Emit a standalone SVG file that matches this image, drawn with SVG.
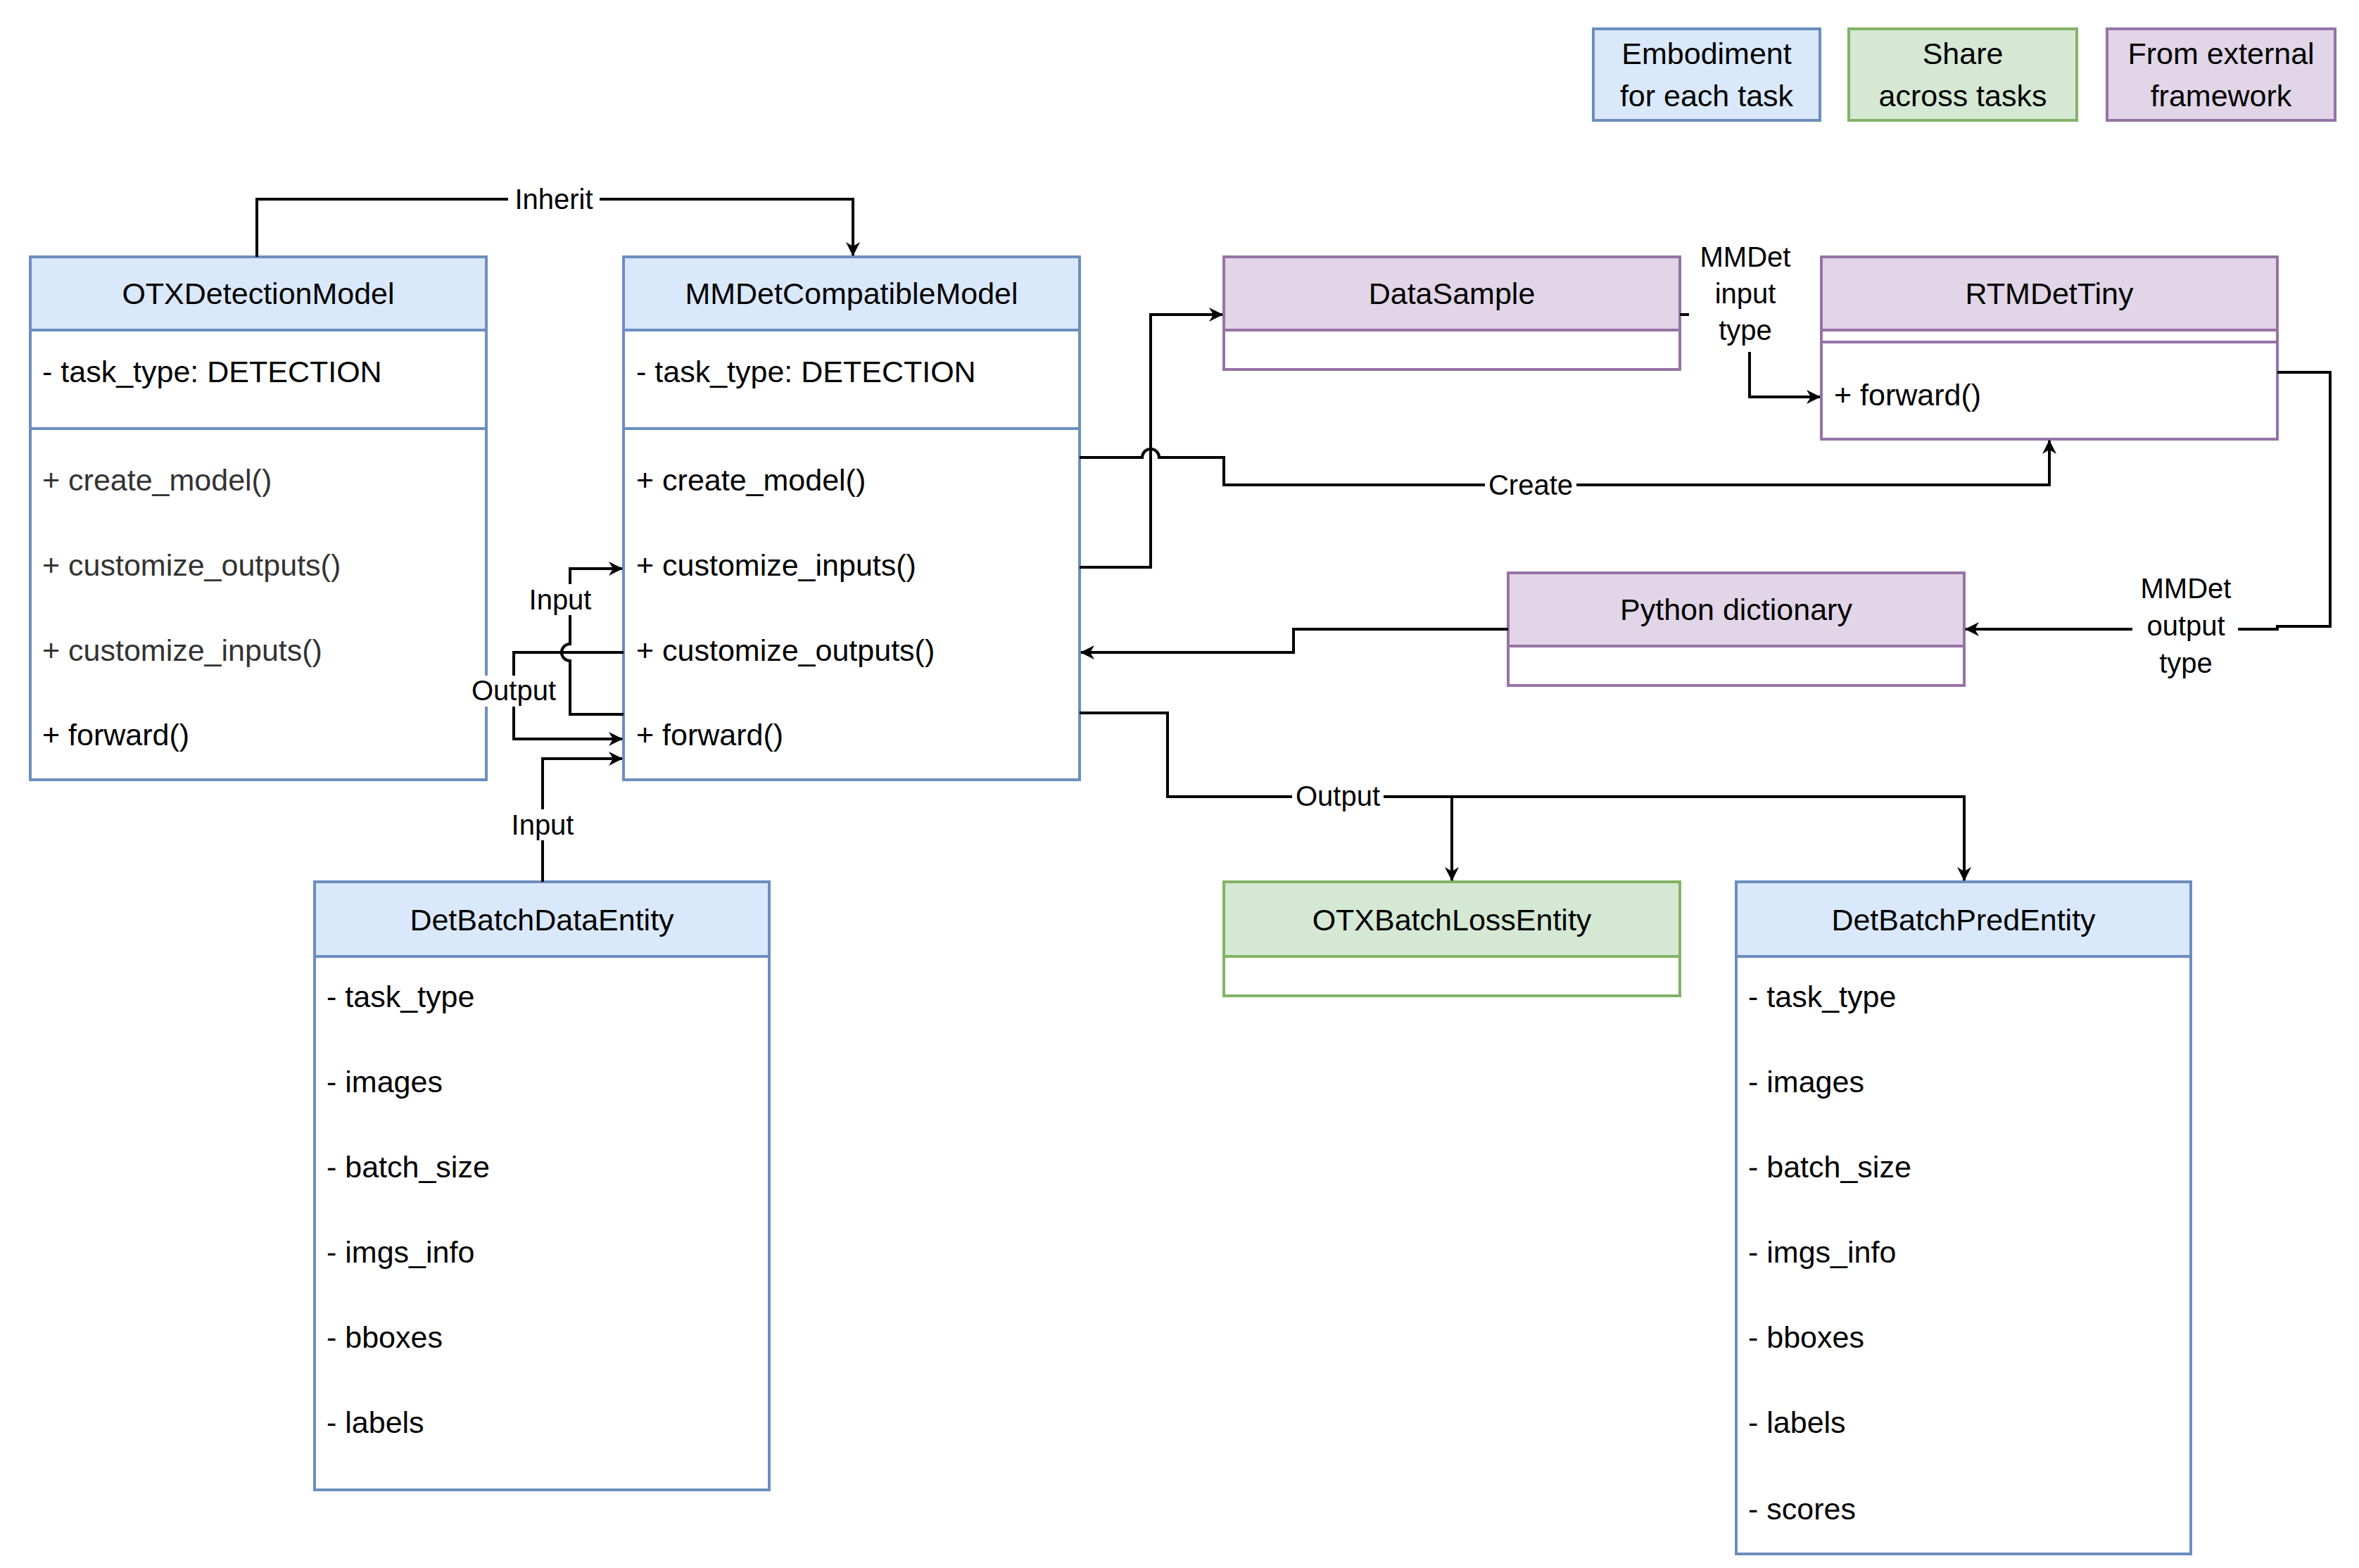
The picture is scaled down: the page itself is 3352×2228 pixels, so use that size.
<svg xmlns="http://www.w3.org/2000/svg" width="3352" height="2228" viewBox="0 0 3352 2228">
<style>
text{font-family:"Liberation Sans",Arial,sans-serif;font-size:43px;fill:#000}
.c{text-anchor:middle}
.b{fill:#dae8fc;stroke:#6c8ebf;stroke-width:4}
.g{fill:#d5e8d4;stroke:#82b366;stroke-width:4}
.p{fill:#e1d5e7;stroke:#9673a6;stroke-width:4}
.w{fill:#fff}
.bs{fill:#fff;stroke:#6c8ebf;stroke-width:4}
.gs{fill:#fff;stroke:#82b366;stroke-width:4}
.ps{fill:#fff;stroke:#9673a6;stroke-width:4}
.ln{fill:none;stroke:#000;stroke-width:4}
.lb{font-size:40px}
.gr{fill:#333}
</style>
<defs>
<marker id="a" viewBox="0 0 20 20" refX="19" refY="10" markerWidth="20" markerHeight="20" markerUnits="userSpaceOnUse" orient="auto">
<path d="M0,0 L20,10 L0,20 L6,10 Z" fill="#000"/>
</marker>
</defs>
<g id="legend">
<rect class="b" x="2264" y="41" width="322" height="130"/>
<text class="c" x="2425" y="91">Embodiment</text><text class="c" x="2425" y="151">for each task</text>
<rect class="g" x="2627" y="41" width="324" height="130"/>
<text class="c" x="2789" y="91">Share</text><text class="c" x="2789" y="151">across tasks</text>
<rect class="p" x="2994" y="41" width="324" height="130"/>
<text class="c" x="3156" y="91">From external</text><text class="c" x="3156" y="151">framework</text>
</g>
<g id="OTXDetectionModel">
<rect class="bs" x="43" y="365" width="648" height="743"/>
<rect class="b" x="43" y="365" width="648" height="104"/>
<line class="ln" x1="43" y1="609" x2="691" y2="609" stroke="#6c8ebf" style="stroke:#6c8ebf"/>
<text class="c" x="367" y="432">OTXDetectionModel</text>
<text x="60" y="543">- task_type: DETECTION</text>
<text class="gr" x="60" y="697">+ create_model()</text>
<text class="gr" x="60" y="818">+ customize_outputs()</text>
<text class="gr" x="60" y="939">+ customize_inputs()</text>
<text x="60" y="1059">+ forward()</text>
</g>
<g id="MMDetCompatibleModel">
<rect class="bs" x="886" y="365" width="648" height="743"/>
<rect class="b" x="886" y="365" width="648" height="104"/>
<line x1="886" y1="609" x2="1534" y2="609" style="stroke:#6c8ebf;stroke-width:4"/>
<text class="c" x="1210" y="432">MMDetCompatibleModel</text>
<text x="904" y="543">- task_type: DETECTION</text>
<text x="904" y="697">+ create_model()</text>
<text x="904" y="818">+ customize_inputs()</text>
<text x="904" y="939">+ customize_outputs()</text>
<text x="904" y="1059">+ forward()</text>
</g>
<g id="DataSample">
<rect class="ps" x="1739" y="365" width="648" height="160"/>
<rect class="p" x="1739" y="365" width="648" height="104"/>
<text class="c" x="2063" y="432">DataSample</text>
</g>
<g id="RTMDetTiny">
<rect class="ps" x="2588" y="365" width="648" height="259"/>
<rect class="p" x="2588" y="365" width="648" height="104"/>
<line x1="2588" y1="486" x2="3236" y2="486" style="stroke:#9673a6;stroke-width:4"/>
<text class="c" x="2912" y="432">RTMDetTiny</text>
<text x="2606" y="576">+ forward()</text>
</g>
<g id="PythonDictionary">
<rect class="ps" x="2143" y="814" width="648" height="160"/>
<rect class="p" x="2143" y="814" width="648" height="104"/>
<text class="c" x="2467" y="881">Python dictionary</text>
</g>
<g id="DetBatchDataEntity">
<rect class="bs" x="447" y="1253" width="646" height="864"/>
<rect class="b" x="447" y="1253" width="646" height="106"/>
<text class="c" x="770" y="1322">DetBatchDataEntity</text>
<text x="464" y="1431">- task_type</text>
<text x="464" y="1552">- images</text>
<text x="464" y="1673">- batch_size</text>
<text x="464" y="1794">- imgs_info</text>
<text x="464" y="1915">- bboxes</text>
<text x="464" y="2036">- labels</text>
</g>
<g id="OTXBatchLossEntity">
<rect class="gs" x="1739" y="1253" width="648" height="162"/>
<rect class="g" x="1739" y="1253" width="648" height="106"/>
<text class="c" x="2063" y="1322">OTXBatchLossEntity</text>
</g>
<g id="DetBatchPredEntity">
<rect class="bs" x="2467" y="1253" width="646" height="955"/>
<rect class="b" x="2467" y="1253" width="646" height="106"/>
<text class="c" x="2790" y="1322">DetBatchPredEntity</text>
<text x="2484" y="1431">- task_type</text>
<text x="2484" y="1552">- images</text>
<text x="2484" y="1673">- batch_size</text>
<text x="2484" y="1794">- imgs_info</text>
<text x="2484" y="1915">- bboxes</text>
<text x="2484" y="2036">- labels</text>
<text x="2484" y="2159">- scores</text>
</g>
<g id="connectors">
<path class="ln" d="M365,365 V283 H1212 V363" marker-end="url(#a)"/>
<rect class="w" x="722" y="262" width="130" height="44"/>
<text class="c lb" x="787" y="297">Inherit</text>

<path class="ln" d="M1534,650 H1623 A12,12 0 0 1 1647,650 H1739 V689 H2912 V626" marker-end="url(#a)"/>
<rect class="w" x="2110" y="668" width="130" height="44"/>
<text class="c lb" x="2175" y="703">Create</text>

<path class="ln" d="M1534,806 H1635 V447 H1737" marker-end="url(#a)"/>

<path class="ln" d="M2387,447 H2486 V564 H2586" marker-end="url(#a)"/>
<rect class="w" x="2400" y="330" width="160" height="170"/>
<text class="c lb" x="2480" y="379">MMDet</text>
<text class="c lb" x="2480" y="431">input</text>
<text class="c lb" x="2480" y="483">type</text>

<path class="ln" d="M3236,529 H3311 V890 H3236 V894 H2793" marker-end="url(#a)"/>
<rect class="w" x="3030" y="800" width="150" height="170"/>
<text class="c lb" x="3106" y="850">MMDet</text>
<text class="c lb" x="3106" y="903">output</text>
<text class="c lb" x="3106" y="956">type</text>

<path class="ln" d="M2143,894 H1838 V927 H1536" marker-end="url(#a)"/>

<path class="ln" d="M1534,1013 H1659 V1132 H2063 V1251" marker-end="url(#a)"/>
<path class="ln" d="M2063,1132 H2791 V1251" marker-end="url(#a)"/>
<rect class="w" x="1836" y="1110" width="130" height="44"/>
<text class="c lb" x="1901" y="1145">Output</text>

<path class="ln" d="M886,927 H730 V1050 H884" marker-end="url(#a)"/>
<rect class="w" x="660" y="960" width="140" height="44"/>
<text class="c lb" x="730" y="995">Output</text>

<path class="ln" d="M886,1015 H810 V939 A12,12 0 0 1 810,915 V808 H884" marker-end="url(#a)"/>
<rect class="w" x="742" y="830" width="108" height="44"/>
<text class="c lb" x="796" y="866">Input</text>

<path class="ln" d="M771,1253 V1078 H884" marker-end="url(#a)"/>
<rect class="w" x="717" y="1150" width="108" height="44"/>
<text class="c lb" x="771" y="1186">Input</text>
</g>
</svg>
